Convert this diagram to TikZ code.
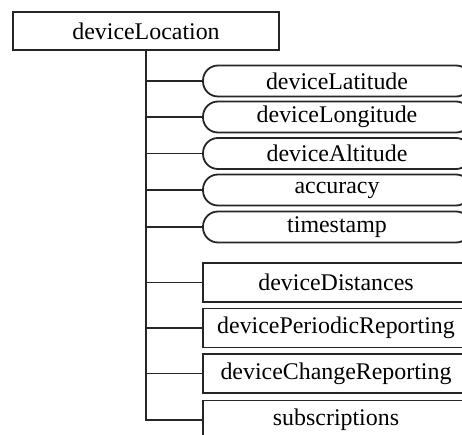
\documentclass[tikz,border=0pt]{standalone}
\usepackage{fontspec}
\setmainfont{Liberation Serif}
\begin{document}
\begin{tikzpicture}[x=1pt, y=-1pt, line width=1.8pt,
  lbl/.style={font=\fontsize{23.9}{28}\selectfont, inner sep=0pt, text=black},
  rootbox/.style={lbl, draw=black!85, minimum width=266pt, minimum height=38pt},
  attr/.style={lbl, draw=black!85, rounded corners=15pt, minimum width=268pt, minimum height=31pt},
  elem/.style={lbl, draw=black!85, minimum width=266pt, minimum height=39pt},
  link/.style={draw=black!85, line width=1.8pt}]
  \clip (0,0) rectangle (462,435);

  % root element
  \node[rootbox] (root) at (146,31) {deviceLocation};

  % attributes
  \node[attr] (lat)  at (337,81)  {deviceLatitude};
  \node[attr] (lon)  at (337,117) {deviceLongitude};
  \node[attr] (alt)  at (337,153.5) {deviceAltitude};
  \node[attr] (acc)  at (337,190) {accuracy};
  \node[attr] (ts)   at (337,227) {timestamp};

  % child elements
  \node[elem] (dist) at (336,282.5) {deviceDistances};
  \node[elem] (per)  at (336,328)   {devicePeriodicReporting};
  \node[elem] (chg)  at (336,373.5) {deviceChangeReporting};
  \node[elem] (sub)  at (336,420)   {subscriptions};

  % tree connectors from the root
  \foreach \n in {lat,lon,alt,acc,ts,dist,per,chg,sub}
    \path[link] (root.south) |- (\n.west);
\end{tikzpicture}
\end{document}
